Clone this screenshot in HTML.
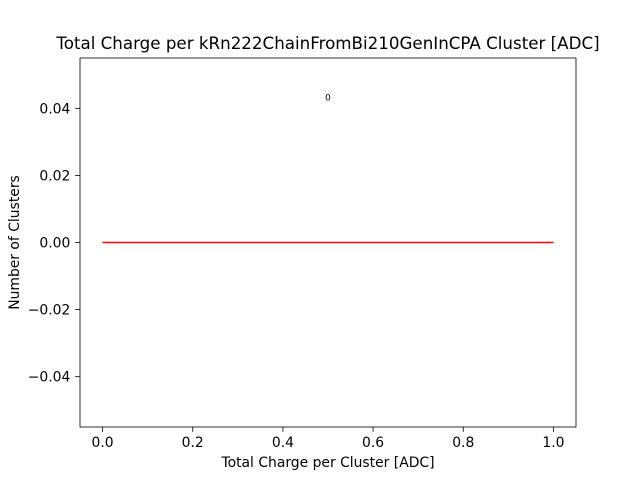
<!DOCTYPE html>
<html><head><meta charset="utf-8"><style>
body{margin:0;background:#fff;}
svg{display:block;font-family:"DejaVu Sans","Liberation Sans",sans-serif;}
</style></head><body>
<svg id="chart" width="640" height="480" viewBox="0 0 640 480">
<rect width="640" height="480" fill="#fff"/>
<text x="328" y="49" font-size="16.7" text-anchor="middle">Total Charge per kRn222ChainFromBi210GenInCPA Cluster [ADC]</text>
<g id="xticks"></g>
<g id="yticks"></g>
<g id="plot"></g>
<rect x="80" y="58" width="496" height="369" fill="none" stroke="#000" stroke-width="0.8"/>
<text x="328" y="467" font-size="13.9" text-anchor="middle">Total Charge per Cluster [ADC]</text>
<text transform="translate(19,242.5) rotate(-90)" font-size="13.9" text-anchor="middle">Number of Clusters</text>
</svg>
<script>
const xTicks = [0, 0.2, 0.4, 0.6, 0.8, 1.0];
const xTickLabels = ["0.0", "0.2", "0.4", "0.6", "0.8", "1.0"];
const yTicks = [-0.04, -0.02, 0, 0.02, 0.04];
const yTickLabels = ["\u22120.04", "\u22120.02", "0.00", "0.02", "0.04"];
const lineX = [0, 1];
const lineY = [0, 0];
const annX = [0.5];
const annY = [0.042];
const annText = ["0"];

const L=80,R=576,T=58,B=427;
const xMin=-0.05,xMax=1.05,yMin=-0.055,yMax=0.055;
const sx=v=>L+(v-xMin)/(xMax-xMin)*(R-L);
const sy=v=>B-(v-yMin)/(yMax-yMin)*(B-T);
const NS="http://www.w3.org/2000/svg";
function mk(tag,attrs,parent){const e=document.createElementNS(NS,tag);for(const k in attrs)e.setAttribute(k,attrs[k]);parent.appendChild(e);return e;}
const gx=document.getElementById('xticks'),gy=document.getElementById('yticks'),gp=document.getElementById('plot');
xTicks.forEach((v,i)=>{
  const t=mk('line',{x1:sx(v),x2:sx(v),y1:B,y2:B+4.9,stroke:'#000','stroke-width':0.8},gx);
  
  
  const l=mk('text',{x:sx(v),y:B+20,'font-size':13.9,'text-anchor':'middle'},gx);
  l.textContent=xTickLabels[i];
  
  
});
yTicks.forEach((v,i)=>{
  const t=mk('line',{x1:L-4.9,x2:L,y1:sy(v),y2:sy(v),stroke:'#000','stroke-width':0.8},gy);
  
  
  const l=mk('text',{x:L-9.7,y:sy(v)+5,'font-size':13.9,'text-anchor':'end'},gy);
  l.textContent=yTickLabels[i];
  
  
});
const pts=lineX.map((x,i)=>sx(x)+','+sy(lineY[i])).join(' ');
const pl=mk('polyline',{points:pts,fill:'none',stroke:'#ff0000','stroke-width':1.5},gp);


annX.forEach((x,i)=>{
  const a=mk('text',{x:sx(x),y:sy(annY[i])-1,'font-size':9,'text-anchor':'middle'},gp);
  a.textContent=annText[i];
  
  
});
</script>
</body></html>
